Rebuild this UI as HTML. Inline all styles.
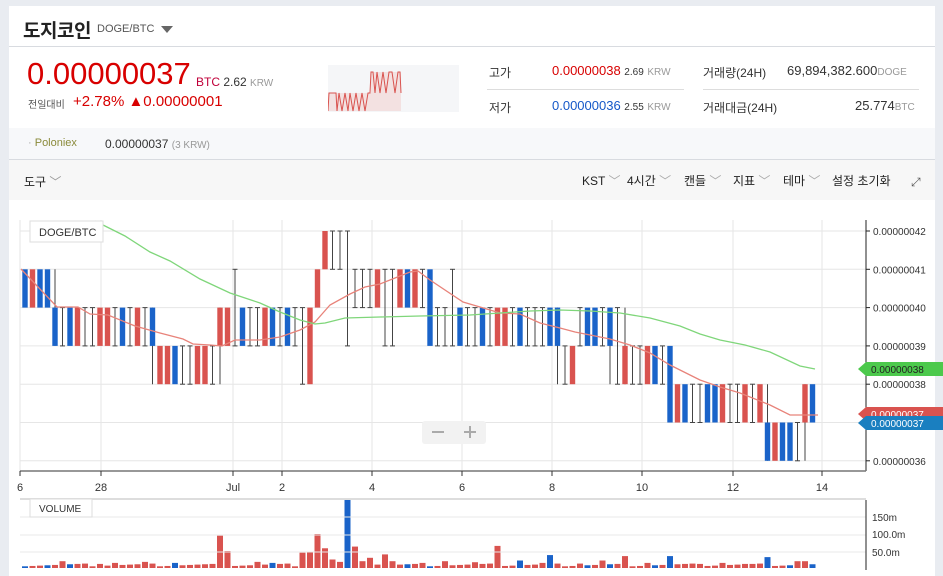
<!DOCTYPE html>
<html><head><meta charset="utf-8">
<style>
*{margin:0;padding:0;box-sizing:border-box}
body{width:943px;height:576px;background:#e9ecf1;font-family:"Liberation Sans","Noto Sans CJK KR",sans-serif;position:relative;overflow:hidden;color:#333}
.panel{position:absolute;left:9px;top:6px;width:926px;height:570px;background:#fff}
.abs{position:absolute;white-space:nowrap}
</style></head><body>
<div class="panel"></div>
<div class="abs" style="left:9px;top:46px;width:926px;height:1px;background:#d8dbe0"></div>
<div class="abs" style="left:9px;top:128px;width:926px;height:32px;background:#f7f8fa"></div>
<div class="abs" style="left:9px;top:159px;width:926px;height:1px;background:#d8dbe0"></div>
<div class="abs" style="left:9px;top:160px;width:926px;height:40px;background:#f7f7f7"></div>
<div class="abs" style="left:23px;top:16px;font-size:19px;font-weight:bold;color:#222;letter-spacing:-0.5px">도지코인</div>
<div class="abs" style="left:97px;top:23px;font-size:11px;color:#555">DOGE/BTC</div>
<div class="abs" style="left:161px;top:26px;width:0;height:0;border-left:6px solid transparent;border-right:6px solid transparent;border-top:7px solid #666"></div>
<div class="abs" style="left:27px;top:56px;font-size:31px;color:#d80000;letter-spacing:0px">0.00000037</div>
<div class="abs" style="left:196px;top:75px;font-size:12px"><span style="color:#c0003a">BTC</span> <span style="color:#333">2.62</span> <span style="color:#999;font-size:10px">KRW</span></div>
<div class="abs" style="left:28px;top:96px;font-size:10px;color:#555">전일대비</div>
<div class="abs" style="left:73px;top:93px;font-size:15px;color:#d80000">+2.78% ▲0.00000001</div>
<svg class="abs" style="left:328px;top:65px" width="131" height="47">
<rect width="131" height="47" fill="#f5f6f8"/>
<path d="M0,46 L0,28 L43,28 L43,7 L73,7 L73,46Z" fill="#f3e1e1"/>
<polyline fill="none" stroke="#d9534f" stroke-width="1" points="0,46 1,28 8,28 9,46 11,28 14,46 17,28 20,46 22,28 25,46 28,28 31,46 34,28 37,46 40,28 42,28 43,7 45,7 47,28 49,7 52,28 55,7 58,28 61,7 64,7 67,28 70,7 72,7 73,28"/>
</svg>
<div class="abs" style="left:489px;top:64px;font-size:12px;color:#333">고가</div>
<div class="abs" style="left:552px;top:63px;font-size:13px;color:#d80000">0.00000038 <span style="font-size:10px;color:#333">2.69</span> <span style="font-size:10px;color:#999">KRW</span></div>
<div class="abs" style="left:487px;top:89px;width:197px;height:1px;background:#ddd"></div>
<div class="abs" style="left:489px;top:99px;font-size:12px;color:#333">저가</div>
<div class="abs" style="left:552px;top:98px;font-size:13px;color:#1558c8">0.00000036 <span style="font-size:10px;color:#333">2.55</span> <span style="font-size:10px;color:#999">KRW</span></div>
<div class="abs" style="left:703px;top:64px;font-size:12px;color:#333">거래량(24H)</div>
<div class="abs" style="left:787px;top:63px;font-size:13px;color:#333">69,894,382.600<span style="font-size:10px;color:#999">DOGE</span></div>
<div class="abs" style="left:703px;top:89px;width:216px;height:1px;background:#ddd"></div>
<div class="abs" style="left:703px;top:99px;font-size:12px;color:#333">거래대금(24H)</div>
<div class="abs" style="left:855px;top:98px;font-size:13px;color:#333">25.774<span style="font-size:10px;color:#999">BTC</span></div>
<div class="abs" style="left:28px;top:137px;font-size:11px;color:#8a8a3a"><span style="color:#aaa">·</span> Poloniex</div>
<div class="abs" style="left:105px;top:137px;font-size:12px;color:#333">0.00000037 <span style="font-size:10px;color:#999">(3 KRW)</span></div>
<div class="abs" style="left:24px;top:173px;font-size:12px;color:#222">도구 <span style="color:#999">﹀</span></div>
<div class="abs" style="left:582px;top:172px;font-size:12px;color:#222">KST <span style="color:#aaa">﹀</span></div>
<div class="abs" style="left:627px;top:172px;font-size:12px;color:#222">4시간 <span style="color:#aaa">﹀</span></div>
<div class="abs" style="left:684px;top:172px;font-size:12px;color:#222">캔들 <span style="color:#aaa">﹀</span></div>
<div class="abs" style="left:733px;top:172px;font-size:12px;color:#222">지표 <span style="color:#aaa">﹀</span></div>
<div class="abs" style="left:783px;top:172px;font-size:12px;color:#222">테마 <span style="color:#aaa">﹀</span></div>
<div class="abs" style="left:832px;top:172px;font-size:12px;color:#222">설정 초기화</div>
<div class="abs" style="left:911px;top:175px;font-size:12px;color:#555">⤢</div>
<svg id="c" class="abs" style="left:0;top:0" width="943" height="576"></svg>
<script>
var s='';
function L(x1,y1,x2,y2,c,w){s+='<line x1="'+x1+'" y1="'+y1+'" x2="'+x2+'" y2="'+y2+'" stroke="'+c+'" stroke-width="'+(w||1)+'"/>';}
function T(x,y,t,sz,c,a){s+='<text x="'+x+'" y="'+y+'" font-size="'+sz+'" fill="'+(c||'#333')+'" font-family="Liberation Sans, sans-serif"'+(a?' text-anchor="'+a+'"':'')+'>'+t+'</text>';}
function Y(v){return 231+(42-v)*38.3;}
for(var v=36;v<=42;v++){L(20,Y(v),866,Y(v),'#e6e6e6');}
var xs=[20,101,233,282,372,462,552,642,733,822];
xs.forEach(function(x){L(x,220,x,471,'#e6e6e6');});
L(866,220,866,471,'#222');L(20,471,866,471,'#777',1.5);
xs.forEach(function(x){L(x,471,x,476,'#333');});
var lb=['6','28','Jul','2','4','6','8','10','12','14'];
xs.forEach(function(x,i){T(x,491,lb[i],11,'#333','middle');});
for(var v=36;v<=42;v++){L(866,Y(v),870,Y(v),'#222');T(873,Y(v)+4,'0.000000'+v,10,'#333');}
var C='b40 41,r40 41,b40 41,b40 41,b39 40 41,d39 40,b39 40,r39 40,d39 40,d39 40,r39 40,r39 40,d39 40,b39 40,d39 40,r39 40,d39 40,b39 40 38,r38 39,r38 39,b38 39,d38 39,d38 39,r38 39,r38 39,d38 39,r39 40 38,r39 40,d39 41,b39 40,d39 40,d39 40,r39 40,b39 40,d39 40,b39 40,d39 40,d38 40,r38 40,r40 41,r41 42,d41 42,d41 42,d39 42,d40 41,d40 41,d40 41,r40 41,d39 41,d39 41,r40 41,b40 41,r40 41,d40 41,b39 41,d39 40,d39 40,d39 41,b39 40,d39 40,d39 40,b39 40,d39 40,r39 40,r39 40,d39 40,b39 40,d39 40,d39 40,d39 40,b39 40,b39 40 38,d38 39,r38 39,d39 40,b39 40,b39 40,d39 40,b39 40 38,d38 40,r38 39 40,d38 39,d38 39,r38 39,b38 39,d38 39,b37 39,r37 38,b37 38,d37 38,d37 38,b37 38,b37 38,r37 38,d37 38,d37 38,r37 38,d37 38,r37 38,b36 37 38,r36 37,b36 37,b36 37,d36 37,r37 38 36,b37 38'.split(',');
var vol={26:95,27:50,37:45,38:48,39:100,40:58,41:25,42:18,43:200,44:63,45:20,46:30,47:10,48:40,49:20,63:65,70:38,80:35,86:35,99:32,104:20,5:20,10:12,12:15,16:18,20:15,31:18,33:15,53:15,56:20,60:17,66:22,69:15,74:13,77:22,83:15,90:12,93:15,96:12,103:20};
var RED='#d9534f',BLU='#1a63c9';
C.forEach(function(c,i){
 var t=c[0],p=c.slice(1).split(' ').map(Number),x=25+7.5*i;
 var lo=p[0],hi=p[1];
 if(t=='d'){L(x,Y(hi),x,Y(lo),'#444');L(x-2.5,Y(hi),x+2.5,Y(hi),'#444');L(x-2.5,Y(lo),x+2.5,Y(lo),'#444');}
 else{ if(p[2]){L(x,Y(Math.min(lo,p[2])),x,Y(Math.max(hi,p[2])),'#444');}
  s+='<rect x="'+(x-2.7)+'" y="'+Y(hi)+'" width="5.4" height="'+(Y(lo)-Y(hi))+'" fill="'+(t=='r'?RED:BLU)+'"/>';}
 var v=vol[i]!==undefined?vol[i]:(5+((i*37)%9));
 var vc=(t=='b'&&(vol[i]!==undefined||i%3==0))?BLU:RED;
 if(i==43)vc=BLU;
 s+='<rect x="'+(x-3)+'" y="'+(568-v*0.34)+'" width="6" height="'+(v*0.34)+'" fill="'+vc+'"/>';
});
s+='<polyline fill="none" stroke="#e8837a" stroke-width="1.3" points="21,269 57,307 78,307 90,314 108,315 135,326 160,333 183,339 193,344 210,345 222,346 235,340 260,340 280,337 300,330 315,322 330,305 350,294 365,287 380,284 395,278 410,272 418,271 430,280 463,302 480,307 500,313 520,314 540,323 560,328 575,332 610,339 630,345 650,353 670,365 700,380 720,387 740,393 770,405 790,415 810,415 818,415"/>';
s+='<polyline fill="none" stroke="#7fd67a" stroke-width="1.3" points="95,221 125,236 150,252 170,261 200,279 230,293 260,303 280,312 300,320 315,324 325,323 345,318 380,317 420,316 470,315 500,313 530,311 560,310 590,311 620,313 650,318 680,326 700,334 720,340 745,345 770,352 800,366 815,369"/>';
s+='<rect x="30" y="221" width="73" height="21" fill="#fff" stroke="#ddd"/>';T(39,236,'DOGE/BTC',11,'#333');
s+='<rect x="422" y="421" width="64" height="23" rx="3" fill="#f2f2f2"/>';L(432,432,444,432,'#aaa',2);L(464,432,476,432,'#aaa',2);L(470,426,470,438,'#aaa',2);
function tag(y,c,t){s+='<path d="M858,'+y+' L866,'+(y-7)+' L943,'+(y-7)+' L943,'+(y+7)+' L866,'+(y+7)+'Z" fill="'+c+'"/>';T(871,y+4,t,10,c=='#4cc94c'?'#222':'#fff');}
tag(369,'#4cc94c','0.00000038');tag(414,'#d9534f','0.00000037');tag(423,'#1a7fc0','0.00000037');
L(20,499,866,499,'#ddd',2);
[517,535,552].forEach(function(y){L(20,y,866,y,'#e8e8e8');});
L(866,500,866,570,'#222');
T(872,521,'150m',10);T(872,538,'100.0m',10);T(872,556,'50.0m',10);
s+='<rect x="30" y="499" width="62" height="18" fill="#fff" stroke="#ddd"/>';T(39,512,'VOLUME',10,'#333');
document.getElementById('c').innerHTML=s;
</script>
</body></html>
